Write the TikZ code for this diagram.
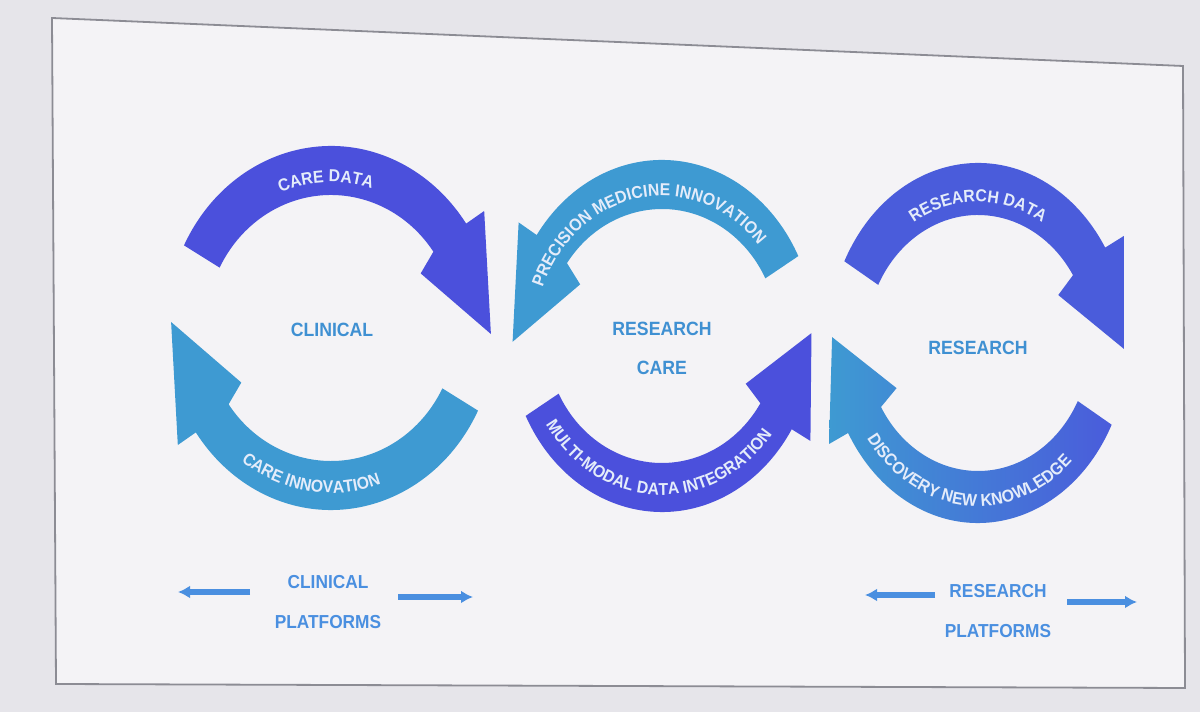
\documentclass[tikz,border=0pt]{standalone}
\usepackage{fontspec}
\usepackage{tikz}
\usetikzlibrary{arrows.meta,decorations.text}
\newfontfamily\slidefont[FakeStretch=0.92]{Liberation Sans}

\definecolor{violetblue}{HTML}{4B50DC}
\definecolor{careblue}{HTML}{3E9AD2}
\definecolor{midblue}{HTML}{4A5CDB}
\definecolor{labelblue}{HTML}{3F90D2}
\definecolor{platblue}{HTML}{4A8FE0}
\definecolor{arctext}{HTML}{E4ECFA}
\definecolor{panel}{HTML}{F4F3F6}
\definecolor{backdrop}{HTML}{E6E5EA}
\definecolor{rim}{HTML}{8C8C94}

\newcommand{\arcfont}{\slidefont\bfseries\fontsize{8.6}{10}\selectfont}

% ring size: outer Rx Ry, inner rx ry
\newcommand{\setring}[4]{\def\Rx{#1}\def\Ry{#2}\def\rx{#3}\def\ry{#4}}

% curved block arrow: centre, tail angle, head angle, tip angle, fill
\newcommand{\ringarrow}[5]{%
  \path[#5, shift={(#1)}] (#2:{\Rx} and {\Ry})
    arc[start angle=#2, end angle=#3, x radius=\Rx, y radius=\Ry]
    -- (#3:{\Rx+22} and {\Ry+22})
    -- (#4:{(\Rx+\rx)/2+15} and {(\Ry+\ry)/2+15})
    -- ({#3+0.15*(#4-#3)}:{\rx-22} and {\ry-22})
    -- (#3:{\rx} and {\ry})
    arc[start angle=#3, end angle=#2, x radius=\rx, y radius=\ry] -- cycle;}

% text along a ring: centre, start, end, x radius, y radius, text
\newcommand{\ringlabel}[6]{%
  \path[shift={(#1)}, decorate, decoration={text along path, text align=center,
      text color=arctext, text={|\arcfont|#6}}]
    (#2:{#4} and {#5}) arc[start angle=#2, end angle=#3, x radius=#4, y radius=#5];}

\begin{document}
\begin{tikzpicture}[x=0.5pt, y=0.5pt,
    hub/.style={font=\slidefont\bfseries\fontsize{9.6}{19.5}\selectfont, text=labelblue, align=center},
    platform/.style={font=\slidefont\bfseries\fontsize{9.4}{20}\selectfont, text=platblue, align=center},
    spread/.style={-{Latex[length=6pt,width=6.5pt]}, line width=2.8pt, draw=platblue},
    frame/.style={draw=rim, line width=0.9pt, fill=panel}]
  \fill[backdrop] (0,0) rectangle (1200,712);
  \useasboundingbox (0,0) rectangle (1200,712);
  \draw[frame] (52,694) -- (1183,646) -- (1185,24) -- (56,28) -- cycle;

  % ring centres
  \coordinate (clinical) at (331,384);
  \coordinate (rescare) at (662,376);
  \coordinate (research) at (978,369);

  % clinical loop
  \setring{165}{182}{125}{133}
  \ringarrow{clinical}{153}{35}{-2}{fill=violetblue}
  \ringarrow{clinical}{-27}{-145}{-182}{fill=careblue}
  \ringlabel{clinical}{172}{12}{136}{146}{CARE DATA}
  \ringlabel{clinical}{-178}{-18}{152}{165}{CARE INNOVATION}

  % research care loop
  \setring{153}{176}{116}{127}
  \ringarrow{rescare}{27}{145}{182}{fill=careblue}
  \ringarrow{rescare}{-153}{-32}{1}{fill=violetblue}
  \ringlabel{rescare}{180}{20}{127}{140}{PRECISION MEDICINE INNOVATION}
  \ringlabel{rescare}{-172}{-12}{140}{159}{MULTI-MODAL DATA INTEGRATION}

  % research loop
  \setring{150}{180}{112}{128}
  \ringarrow{research}{153}{32}{-2}{fill=midblue}
  \ringarrow{research}{-27}{-150}{-182}{left color=careblue, right color=midblue}
  \ringlabel{research}{170}{10}{123}{141}{RESEARCH DATA}
  \ringlabel{research}{-175}{-15}{137}{163}{DISCOVERY NEW KNOWLEDGE}

  \node[hub] (clinlabel) at (332,382) {CLINICAL};
  \node[hub] (rclabel) at (662,364) {RESEARCH\\CARE};
  \node[hub] (reslabel) at (978,364) {RESEARCH};

  \node[platform] (clinplat) at (328,110) {CLINICAL\\PLATFORMS};
  \node[platform] (resplat) at (998,101) {RESEARCH\\PLATFORMS};
  \coordinate (clinleft0) at (250,120);
  \coordinate (clinleft1) at (178,120);
  \coordinate (clinright0) at (398,115);
  \coordinate (clinright1) at (473,115);
  \coordinate (resleft0) at (935,117);
  \coordinate (resleft1) at (865,117);
  \coordinate (resright0) at (1067,110);
  \coordinate (resright1) at (1137,110);
  \draw[spread] (clinleft0) -- (clinleft1);
  \draw[spread] (clinright0) -- (clinright1);
  \draw[spread] (resleft0) -- (resleft1);
  \draw[spread] (resright0) -- (resright1);
\end{tikzpicture}
\end{document}
